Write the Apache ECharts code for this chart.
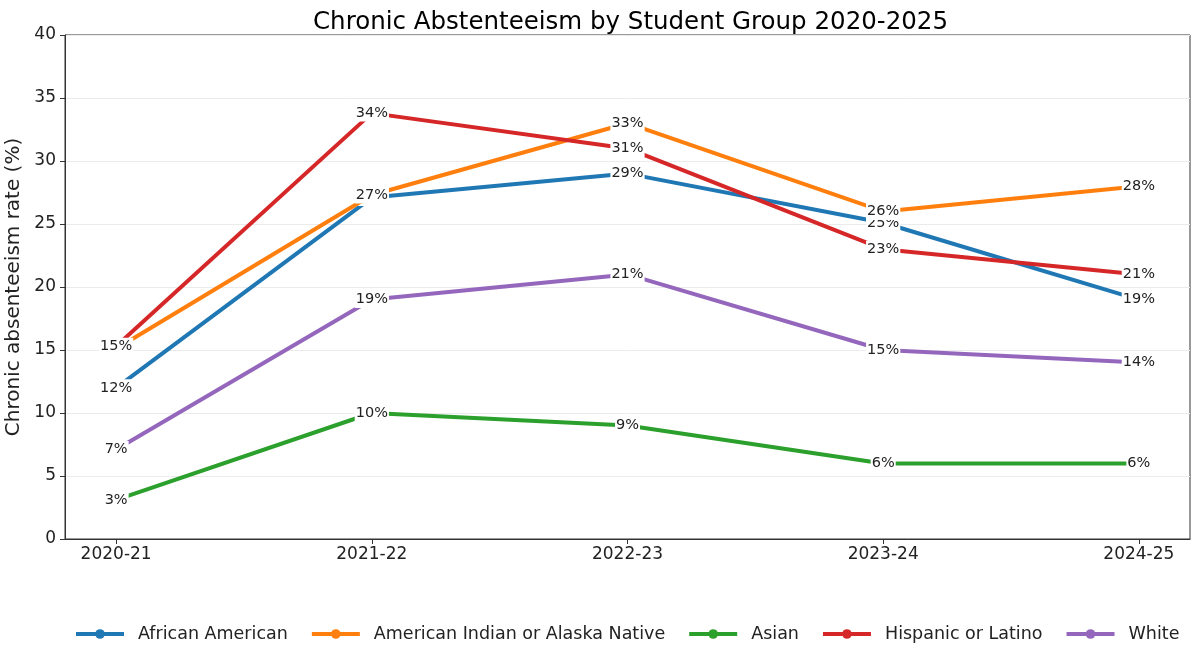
<!DOCTYPE html>
<html><head><meta charset="utf-8">
<script src="https://cdn.jsdelivr.net/npm/echarts@6/dist/echarts.min.js"></script>
<style>html,body{margin:0;padding:0;background:#fff}#c{width:1200px;height:659px}</style>
</head><body><div id="c"></div>
<script>
const categories = ['2020-21','2021-22','2022-23','2023-24','2024-25'];
const seriesNames = ['African American','American Indian or Alaska Native','Asian','Hispanic or Latino','White'];
const africanAmerican = [12.0, 27.1, 29.0, 25.1, 19.0];
const americanIndian = [15.1, 27.3, 33.0, 26.0, 28.0];
const asian = [3.1, 10.0, 9.0, 6.0, 6.0];
const hispanic = [15.3, 33.8, 31.0, 23.0, 21.0];
const white = [7.1, 19.0, 21.0, 15.0, 14.0];
const yTicks = [0,5,10,15,20,25,30,35,40];
const colors = ['#1f77b4','#ff7f0e','#2ca02c','#d62728','#9467bd'];
const values = [africanAmerican, americanIndian, asian, hispanic, white];
const font = 'DejaVu Sans';

const chart = echarts.init(document.getElementById('c'));
chart.setOption({
  animation: false,
  backgroundColor: '#fff',
  textStyle: {fontFamily: font},
  title: {text: 'Chronic Abstenteeism by Student Group 2020-2025', left: 308, top: 5,
    textStyle: {fontFamily: font, fontSize: 24.5, fontWeight: 'normal', color: '#000'}},
  grid: {left: 65, right: 10, top: 35, bottom: 120, containLabel: false, outerBoundsMode: 'none',
    show: true, borderColor: '#333', borderWidth: 1, backgroundColor: 'transparent'},
  legend: {bottom: 16, left: 74, padding: 0, width: 1126, itemWidth: 48, itemHeight: 12, itemGap: 22,
    lineStyle: {width: 4},
    textStyle: {fontFamily: font, fontSize: 17.5, color: '#222', padding: [0, 0, 0, 9]},
    data: seriesNames},
  xAxis: {type: 'value', min: -0.2, max: 4.2,
    axisLine: {show: true, onZero: false, lineStyle: {color: '#333'}},
    axisTick: {show: true, length: 5, customValues: categories.map((c,i)=>i), lineStyle: {color: '#333'}},
    axisLabel: {customValues: categories.map((c,i)=>i), formatter: v => categories[Math.round(v)] || '', margin: 7,
      fontFamily: font, fontSize: 17, color: '#222'},
    splitLine: {show: false}},
  yAxis: {type: 'value', min: 0, max: 40, interval: 5,
    name: 'Chronic absenteeism rate (%)', nameLocation: 'middle', nameGap: 33,
    nameTextStyle: {fontFamily: font, fontSize: 20, color: '#222'},
    axisLine: {show: true, onZero: false, lineStyle: {color: '#333'}},
    axisTick: {show: true, length: 5, lineStyle: {color: '#333'}},
    axisLabel: {fontFamily: font, fontSize: 17, color: '#222', margin: 9},
    splitLine: {show: true, lineStyle: {color: '#ebebeb', width: 1}}},
  series: seriesNames.map((n, k) => ({
    name: n, type: 'line',
    data: values[k].map((v, i) => [i, v]),
    color: colors[k],
    lineStyle: {width: 4, color: colors[k]},
    symbol: 'circle', symbolSize: 8, showSymbol: true,
    itemStyle: {color: colors[k]},
    z: 2 + k,
    label: {show: true, position: 'inside', formatter: p => Math.round(p.value[1]) + '%',
      fontFamily: font, fontSize: 14.5, color: '#222', backgroundColor: '#fff', padding: [1, 1]},
    labelLayout: {hideOverlap: false}
  }))
});
</script></body></html>
